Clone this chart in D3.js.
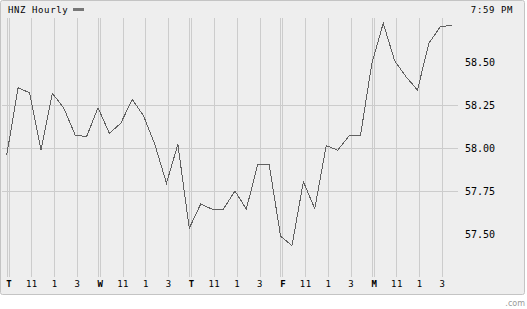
<!DOCTYPE html>
<html><head><meta charset="utf-8">
<script src="https://cdn.jsdelivr.net/npm/d3@7"></script>
<style>html,body{margin:0;padding:0;background:#fff;}svg{display:block;}</style>
</head><body>
<script>
// ---- data ----
const title = "HNZ Hourly";
const timeLabel = "7:59 PM";
const dayLabels = ["T", "W", "T", "F", "M"];
const hourLabels = ["11", "1", "3"];
const prices = [
  57.962, 58.353, 58.324, 57.991, 58.321, 58.235, 58.078, 58.069,
  58.237, 58.088, 58.147, 58.286, 58.189, 58.020, 57.798, 58.024,
  57.536, 57.677, 57.647, 57.648, 57.753, 57.648, 57.908, 57.908,
  57.491, 57.435, 57.807, 57.650, 58.017, 57.990, 58.073, 58.073,
  58.495, 58.728, 58.510, 58.417, 58.340, 58.612, 58.708, 58.716
];
const yTickValues = [57.5, 57.75, 58.0, 58.25, 58.5];
const yGridValues = [57.75, 58.0, 58.25];

// ---- layout ----
const W = 527, H = 309;
const hoursPerDay = 8;
const svg = d3.select("body").append("svg").attr("width", W).attr("height", H);

svg.append("rect").attr("x", 0.5).attr("y", 0.5).attr("width", 524).attr("height", 294)
  .attr("rx", 2).attr("fill", "#eeeeee").attr("stroke", "#c4c4c4");

const x = d3.scaleLinear().domain([0, dayLabels.length * hoursPerDay]).range([9, 9 + 40 * 11.41]);
const y = d3.scaleLinear().domain([57.5, 58.5]).range([234.5, 62.5]);
const crisp = v => Math.floor(v) + 0.5;
const gridTop = 18, gridBottom = 277, gridLeft = 2, gridRight = 458;
const gridColor = "#cccccc";

// horizontal gridlines
svg.append("g").selectAll("line").data(yGridValues).join("line")
  .attr("x1", gridLeft).attr("x2", gridRight)
  .attr("y1", d => crisp(y(d))).attr("y2", d => crisp(y(d)))
  .attr("stroke", gridColor);

// vertical gridlines: day starts (double) and hours
const dayTicks = dayLabels.map((d, k) => ({label: d, h: k * hoursPerDay}));
const hourTicks = [];
dayLabels.forEach((d, k) => hourLabels.forEach((l, j) => hourTicks.push({label: l, h: k * hoursPerDay + 2 * (j + 1)})));

const vg = svg.append("g");
vg.selectAll("line.d1").data(dayTicks).join("line").attr("class", "d1")
  .attr("x1", d => crisp(x(d.h)) - 2).attr("x2", d => crisp(x(d.h)) - 2)
  .attr("y1", gridTop).attr("y2", gridBottom).attr("stroke", gridColor);
vg.selectAll("line.d2").data(dayTicks).join("line").attr("class", "d2")
  .attr("x1", d => crisp(x(d.h))).attr("x2", d => crisp(x(d.h)))
  .attr("y1", gridTop).attr("y2", gridBottom).attr("stroke", gridColor);
vg.selectAll("line.h").data(hourTicks).join("line").attr("class", "h")
  .attr("x1", d => crisp(x(d.h))).attr("x2", d => crisp(x(d.h)))
  .attr("y1", gridTop).attr("y2", gridBottom).attr("stroke", gridColor);

const font = "'DejaVu Sans Mono', monospace";

// x labels
svg.append("g").selectAll("text.d").data(dayTicks).join("text")
  .attr("x", d => x(d.h)).attr("y", 287).attr("text-anchor", "middle")
  .attr("font-family", font).attr("font-size", 9).attr("font-weight", "bold")
  .attr("fill", "#000").text(d => d.label);
svg.append("g").selectAll("text.h").data(hourTicks).join("text")
  .attr("x", d => x(d.h)).attr("y", 287).attr("text-anchor", "middle")
  .attr("font-family", font).attr("font-size", 9).attr("letter-spacing", 0.5)
  .attr("fill", "#000").text(d => d.label);

// y labels
svg.append("g").selectAll("text").data(yTickValues).join("text")
  .attr("x", 465).attr("y", d => y(d) + 3.5)
  .attr("font-family", font).attr("font-size", 10)
  .attr("fill", "#000").text(d => d.toFixed(2));

// price line
const line = d3.line().x((d, i) => x(i - 0.2)).y(d => y(d));
svg.append("path").datum(prices).attr("d", line)
  .attr("fill", "none").attr("stroke", "#606060").attr("stroke-width", 1)
  .attr("shape-rendering", "crispEdges");

// title + legend swatch
svg.append("text").attr("x", 8).attr("y", 12.5)
  .attr("font-family", font).attr("font-size", 9).attr("letter-spacing", 0.6)
  .attr("fill", "#000").text(title);
svg.append("rect").attr("x", 73).attr("y", 8).attr("width", 11).attr("height", 3).attr("fill", "#777777");

svg.append("text").attr("x", 513).attr("y", 13).attr("text-anchor", "end")
  .attr("font-family", font).attr("font-size", 9).attr("letter-spacing", 0.6)
  .attr("fill", "#000").text(timeLabel);

svg.append("text").attr("x", 525).attr("y", 306).attr("text-anchor", "end")
  .attr("font-family", "'DejaVu Sans', sans-serif").attr("font-size", 8)
  .attr("fill", "#999").text(".com");
</script>
</body></html>
